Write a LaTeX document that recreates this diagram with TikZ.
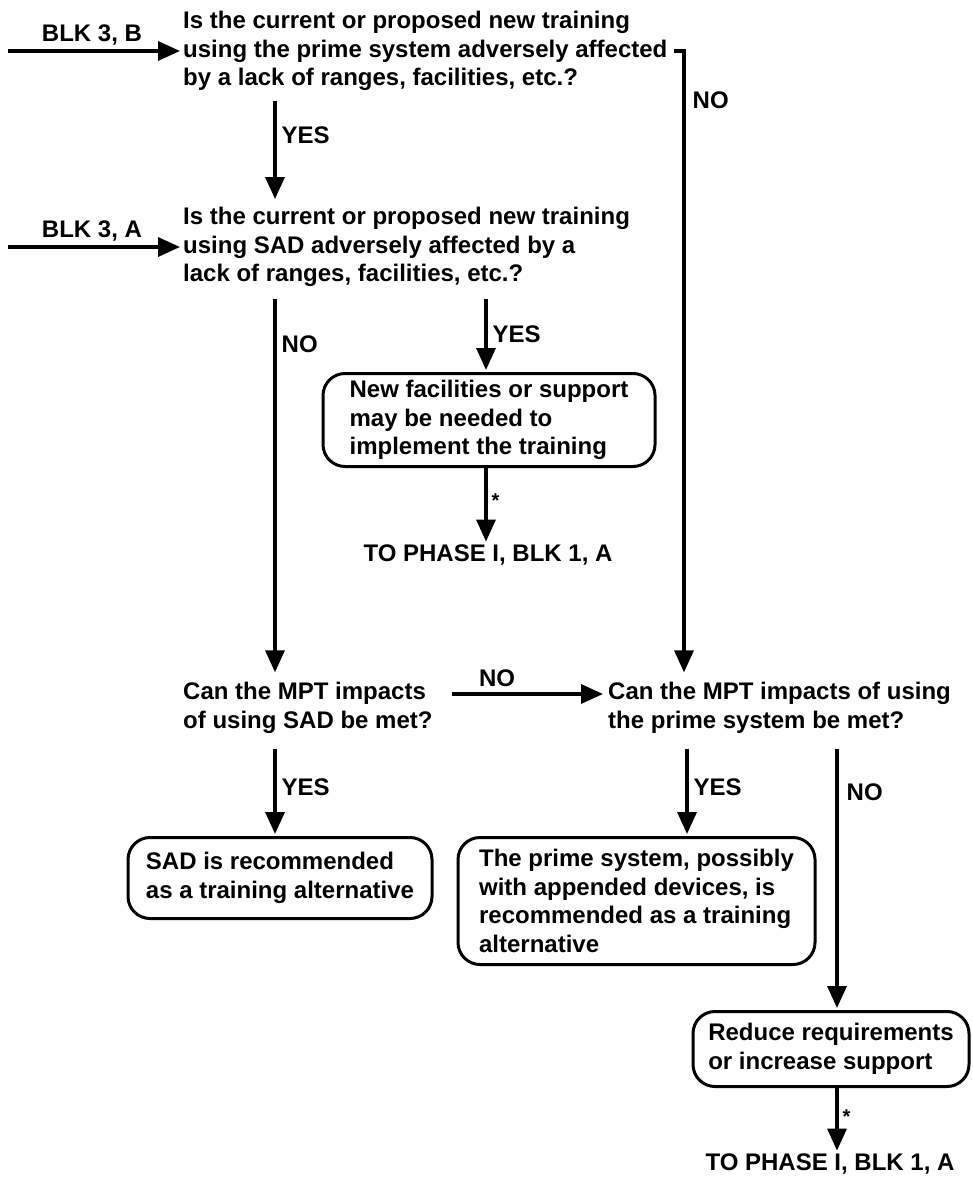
\documentclass[tikz,border=0pt]{standalone}
\usepackage{fontspec}
\setmainfont{Liberation Sans}
\usetikzlibrary{arrows.meta}
\newcommand\flowfont{\fontsize{24}{28.5}\selectfont\bfseries}
\newcommand\starfont{\fontsize{20}{20}\selectfont\bfseries}
\begin{document}
\begin{tikzpicture}[x=1pt,y=-1pt,
  txt/.style={font=\flowfont, align=left, inner sep=0pt},
  rbox/.style={draw, line width=3pt, rounded corners=22pt, font=\flowfont,
    align=left, inner sep=0pt},
  arr/.style={line width=3.4pt, -{Triangle[length=22pt,width=19pt]}},
  lbl/.style={font=\flowfont, inner sep=0pt},
  star/.style={font=\starfont, inner sep=0pt}]
\useasboundingbox (0,0) rectangle (972,1185);

% columns used by the vertical connectors
\coordinate (cA) at (275,0);
\coordinate (cB) at (486,0);
\coordinate (cR) at (684,0);
\coordinate (cY) at (687,0);
\coordinate (cN) at (837,0);
\coordinate (in1) at (8,51);
\coordinate (in2) at (8,247);

% questions
\node[txt, anchor=west] (q1) at (183,51)
  {Is the current or proposed new training\\using the prime system adversely affected\\by a lack of ranges, facilities, etc.?};
\node[txt, anchor=west] (q2) at (183,247)
  {Is the current or proposed new training\\using SAD adversely affected by a\\lack of ranges, facilities, etc.?};
\node[txt, anchor=west] (q3) at (183,708)
  {Can the MPT impacts\\of using SAD be met?};
\node[txt, anchor=west] (q4) at (608,708)
  {Can the MPT impacts of using\\the prime system be met?};

% outcome boxes
\node[rbox, minimum width=332pt, minimum height=93pt] (b1) at (489,420)
  {New facilities or support\\may be needed to\\implement the training};
\node[rbox, minimum width=304pt, minimum height=81pt] (b2) at (280,878)
  {SAD is recommended\\as a training alternative};
\node[rbox, minimum width=357pt, minimum height=127pt] (b3) at (636.5,901)
  {The prime system, possibly\\with appended devices, is\\recommended as a training\\alternative};
\node[rbox, minimum width=276pt, minimum height=75pt] (b4) at (831,1049)
  {Reduce requirements\\or increase support};

% exits
\node[lbl] (t1) at (488,555) {TO PHASE I, BLK 1, A};
\node[lbl] (t2) at (830,1164) {TO PHASE I, BLK 1, A};

% entries
\draw[arr, shorten >=3pt] (in1) -- (q1.west |- in1)
  node[lbl, above=4pt, pos=0.48] (e1) {BLK 3, B};
\draw[arr, shorten >=3pt] (in2) -- (q2.west |- in2)
  node[lbl, above=4pt, pos=0.48] (e2) {BLK 3, A};

% connectors
\draw[arr] ([yshift=-10pt]q1.south -| cA) -- ([yshift=8pt]q2.north -| cA)
  node[lbl, right=5pt, pos=0.35] (l1) {YES};
\draw[arr] ([xshift=6pt]q1.east) -| ([yshift=10pt]q4.north -| cR)
  node[lbl, right=7pt, pos=0.54] (l2) {NO};
\draw[arr] ([yshift=-12pt]q2.south -| cA) -- ([yshift=10pt]q3.north -| cA)
  node[lbl, right=5pt, pos=0.12] (l3) {NO};
\draw[arr] ([yshift=-12pt]q2.south -| cB) -- ([yshift=2pt]b1.north -| cB)
  node[lbl, right=5pt, pos=0.5] (l4) {YES};
\draw[arr] (b1.south -| cB) -- ([yshift=3pt]t1.north -| cB)
  node[star, right=4pt, pos=0.45] (s1) {*};
\draw[arr] ([xshift=19pt,yshift=14pt]q3.east) -- ([xshift=-5pt,yshift=14pt]q4.west)
  node[lbl, above=6pt, pos=0.3] (l5) {NO};
\draw[arr] ([yshift=-15pt]q3.south -| cA) -- ([yshift=2pt]b2.north -| cA)
  node[lbl, right=5pt, pos=0.45] (l6) {YES};
\draw[arr] ([yshift=-15pt]q4.south -| cY) -- ([yshift=2pt]b3.north -| cY)
  node[lbl, right=5pt, pos=0.45] (l7) {YES};
\draw[arr] ([yshift=-15pt]q4.south -| cN) -- ([yshift=2pt]b4.north -| cN)
  node[lbl, right=8pt, pos=0.17] (l8) {NO};
\draw[arr] (b4.south -| cN) -- ([yshift=3pt]t2.north -| cN)
  node[star, right=4pt, pos=0.45] (s2) {*};
\end{tikzpicture}
\end{document}
